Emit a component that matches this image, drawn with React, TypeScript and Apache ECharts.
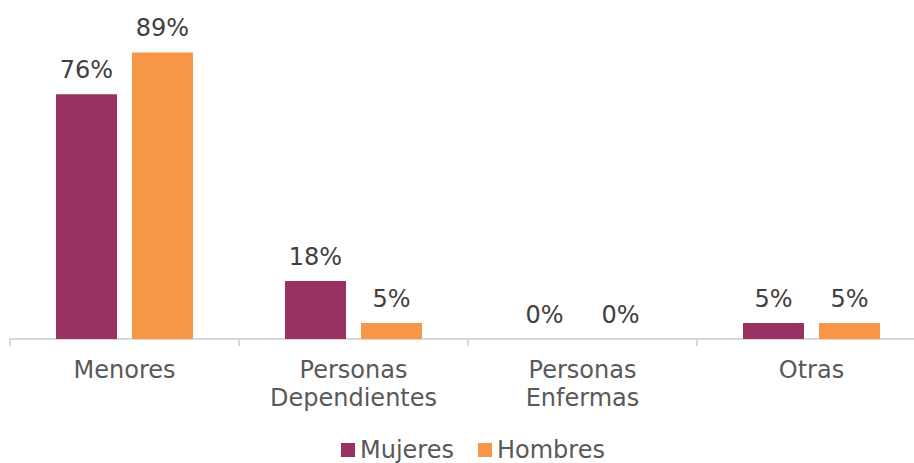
import React, { useEffect, useRef } from "react";
import * as echarts from "echarts";

const categories = ["Menores", "Personas\nDependientes", "Personas\nEnfermas", "Otras"];
const mujeres = [76, 18, 0, 5];
const hombres = [89, 5, 0, 5];
const seriesNames = ["Mujeres", "Hombres"];

export default function App() {
  const ref = useRef<HTMLDivElement>(null);
  useEffect(() => {
    const chart = echarts.init(ref.current!, null, { renderer: "svg" });
    const font = "DejaVu Sans, Verdana, sans-serif";
    const labelCfg = {
      show: true,
      position: "top",
      distance: 12,
      formatter: "{c}%",
      fontSize: 24,
      color: "#404040",
      fontFamily: font,
    };
    chart.setOption({
      animation: false,
      textStyle: { fontFamily: font },
      grid: {
        left: 10,
        width: 916,
        top: 17,
        height: 322,
        containLabel: false,
        outerBoundsMode: "none",
      },
      legend: {
        bottom: -4,
        left: 336,
        icon: "rect",
        itemWidth: 14,
        itemHeight: 14,
        itemGap: 24,
        textStyle: { fontSize: 24, color: "#595959", fontFamily: font },
        data: seriesNames,
      },
      xAxis: {
        type: "category",
        data: categories,
        axisLine: { lineStyle: { color: "#D9D9D9", width: 2 } },
        axisTick: { show: true, length: 7, lineStyle: { color: "#D9D9D9", width: 2 } },
        axisLabel: {
          interval: 0,
          fontSize: 24,
          lineHeight: 28,
          margin: 17,
          color: "#595959",
          fontFamily: font,
        },
      },
      yAxis: {
        type: "value",
        min: 0,
        max: 100,
        show: false,
        splitLine: { show: false },
      },
      series: [
        {
          name: seriesNames[0],
          type: "bar",
          data: mujeres,
          barWidth: 61,
          barGap: "24.6%",
          itemStyle: { color: "#993262" },
          label: labelCfg,
        },
        {
          name: seriesNames[1],
          type: "bar",
          data: hombres,
          barWidth: 61,
          itemStyle: { color: "#F79646" },
          label: labelCfg,
        },
      ],
    });
    return () => chart.dispose();
  }, []);
  return <div ref={ref} style={{ width: 914, height: 463, position: "absolute", left: 0, top: 0 }} />;
}
